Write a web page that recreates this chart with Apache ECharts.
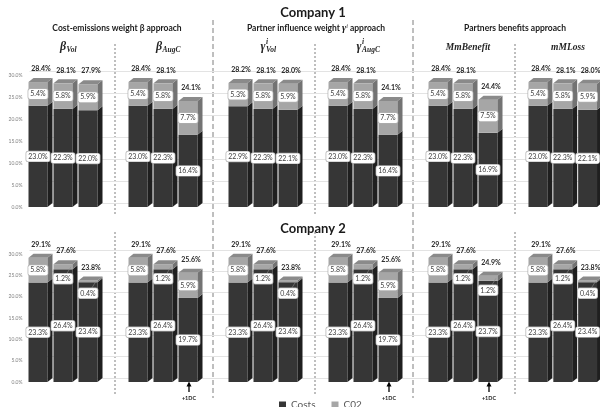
<!DOCTYPE html>
<html><head><meta charset="utf-8">
<script src="https://cdn.jsdelivr.net/npm/echarts@6/dist/echarts.min.js"></script>
<style>html,body{margin:0;padding:0;background:#fff}#c{width:600px;height:407px}</style>
</head><body><div id="c"></div>
<script>
// ---------------- data ----------------
const barSlots = ['S1', 'S2', 'S3'];
const companies = ['Company 1', 'Company 2'];
const approaches = ['Cost-emissions weight β approach', 'Partner influence weight γⁱ approach', 'Partners benefits approach'];
const methods = ['βVol', 'βAugC', 'γVol', 'γAugC', 'MmBenefit', 'mMLoss'];
const yTicks = [0, 5, 10, 15, 20, 25, 30];
const legendNames = ['Costs', 'C02'];

const c1Costs = [[23.0, 22.3, 22.0], [23.0, 22.3, 16.4], [22.9, 22.3, 22.1], [23.0, 22.3, 16.4], [23.0, 22.3, 16.9], [23.0, 22.3, 22.1]];
const c1CO2   = [[5.4, 5.8, 5.9],   [5.4, 5.8, 7.7],   [5.3, 5.8, 5.9],   [5.4, 5.8, 7.7],   [5.4, 5.8, 7.5],   [5.4, 5.8, 5.9]];
const c1Total = [[28.4, 28.1, 27.9], [28.4, 28.1, 24.1], [28.2, 28.1, 28.0], [28.4, 28.1, 24.1], [28.4, 28.1, 24.4], [28.4, 28.1, 28.0]];

const c2Costs = [[23.3, 26.4, 23.4], [23.3, 26.4, 19.7], [23.3, 26.4, 23.4], [23.3, 26.4, 19.7], [23.3, 26.4, 23.7], [23.3, 26.4, 23.4]];
const c2CO2   = [[5.8, 1.2, 0.4],   [5.8, 1.2, 5.9],   [5.8, 1.2, 0.4],   [5.8, 1.2, 5.9],   [5.8, 1.2, 1.2],   [5.8, 1.2, 0.4]];
const c2Total = [[29.1, 27.6, 23.8], [29.1, 27.6, 25.6], [29.1, 27.6, 23.8], [29.1, 27.6, 25.6], [29.1, 27.6, 24.9], [29.1, 27.6, 23.8]];

// +1DC annotations in Company 2 row: [method index, bar index]
const dcMarks = [[1, 2], [3, 2], [4, 2]];

// ---------------- layout / style ----------------
const rowsData = [
  {costs: c1Costs, co2: c1CO2, total: c1Total},
  {costs: c2Costs, co2: c2CO2, total: c2Total}
];
const ROWS = [{top: 75, bottom: 200}, {top: 254, bottom: 25}];
const GL0 = 25.5, GSTEP = 100, GW = 75;
const DX = 5, DY = 4;
const COLORS = {
  costs: {front: '#363636', side: '#1f1f1f', top: '#4a4a4a'},
  co2: {front: '#a6a6a6', side: '#737373', top: '#8a8a8a'}
};
const TXT = 'Lato, "Open Sans", sans-serif';
const SERIF = '"Liberation Serif", "DejaVu Serif", serif';

function makeRender(kind) {
  return function (params, api) {
    const i = api.value(0), base = api.value(1), val = api.value(2), total = api.value(3);
    const pb = api.coord([i, base]), pt = api.coord([i, base + val]);
    const w = api.size([1, 0])[0] * 0.76;
    const cx = pb[0];
    const x0 = cx - w / 2, x1 = cx + w / 2, yb = pb[1], yt = pt[1];
    const col = COLORS[kind];
    const ch = [
      {type: 'rect', shape: {x: x0, y: yt, width: w, height: yb - yt}, style: {fill: col.front}},
      {type: 'polygon', shape: {points: [[x1, yb], [x1 + DX, yb - DY], [x1 + DX, yt - DY], [x1, yt]]}, style: {fill: col.side}}
    ];
    if (kind === 'co2') {
      ch.push({type: 'polygon', shape: {points: [[x0, yt], [x0 + DX, yt - DY], [x1 + DX, yt - DY], [x1, yt]]}, style: {fill: col.top}});
      ch.push({type: 'text', z2: 20, style: {text: total.toFixed(1) + '%', x: cx + 3, y: yt - 13, align: 'center', verticalAlign: 'middle',
        fontSize: 7, fontWeight: 'bold', fontFamily: TXT, fill: '#262626'}});
    }
    const mid = (yb + yt) / 2;
    let ly = mid;
    if (val < 2) {
      ly = mid + 12;
      ch.push({type: 'line', z2: 15, shape: {x1: cx + 3, y1: ly - 4, x2: cx + 8, y2: mid}, style: {stroke: '#8c8c8c', lineWidth: 0.6}});
    }
    ch.push({type: 'text', z2: 20, style: {text: val.toFixed(1) + '%', x: cx, y: ly, align: 'center', verticalAlign: 'middle',
      fontSize: 7, fontFamily: TXT, fill: '#404040', backgroundColor: '#ffffff', borderColor: '#b0b0b0', borderWidth: 0.7,
      borderRadius: 2, padding: [2, 2, 1, 2]}});
    return {type: 'group', children: ch};
  };
}

const grid = [], xAxis = [], yAxis = [], series = [];
ROWS.forEach((row, r) => {
  // background grid carrying the gridlines (back wall)
  grid.push({left: GL0 + DX - 1, right: 0, top: row.top - DY, bottom: row.bottom + DY});
  const bg = grid.length - 1;
  xAxis.push({gridIndex: bg, type: 'value', show: false, min: 0, max: 1});
  yAxis.push({gridIndex: bg, type: 'value', min: 0, max: 30, interval: 5, axisLabel: {show: false},
    axisLine: {show: false}, axisTick: {show: false}, splitLine: {lineStyle: {color: '#e3e3e3', width: 1}}});
  for (let g = 0; g < 6; g++) {
    grid.push({left: GL0 + GSTEP * g, width: GW, top: row.top, bottom: row.bottom});
    const gi = grid.length - 1;
    xAxis.push({gridIndex: gi, type: 'category', data: barSlots, show: false});
    yAxis.push({gridIndex: gi, type: 'value', min: yTicks[0], max: yTicks[yTicks.length - 1], interval: 5,
      axisLine: {show: false}, axisTick: {show: false}, splitLine: {show: false},
      axisLabel: {show: g === 0, fontSize: 5, color: '#7f7f7f', margin: 3, fontFamily: TXT,
        formatter: v => v.toFixed(1) + '%'}});
    const d = rowsData[r];
    series.push({
      type: 'custom', name: legendNames[0], xAxisIndex: gi, yAxisIndex: gi, itemStyle: {color: COLORS.costs.front},
      renderItem: makeRender('costs'), encode: {x: 0, y: 2},
      data: barSlots.map((s, i) => [i, 0, d.costs[g][i], d.total[g][i]])
    });
    series.push({
      type: 'custom', name: legendNames[1], xAxisIndex: gi, yAxisIndex: gi, itemStyle: {color: COLORS.co2.front},
      renderItem: makeRender('co2'), encode: {x: 0, y: 2},
      data: barSlots.map((s, i) => [i, d.costs[g][i], d.co2[g][i], d.total[g][i]])
    });
  }
});

// ---------------- annotations ----------------
const mctx = document.createElement('canvas').getContext('2d');
function tw(t, font) { mctx.font = font; return mctx.measureText(t).width; }
function mathLabel(cx, y, main, sup, sub) {
  const fM = 'italic bold 12px "Liberation Serif"', fS = 'italic bold 7.5px "Liberation Serif"';
  const wM = tw(main, fM), wS = tw(sub, fS), wP = sup ? tw(sup, fS) : 0;
  const x0 = cx - (wM + Math.max(wS, wP)) / 2;
  const els = [
    {type: 'text', x: x0, y: y, style: {text: main, font: fM, fill: '#262626', align: 'left', verticalAlign: 'middle'}},
    {type: 'text', x: x0 + wM + 0.5, y: y + 3, style: {text: sub, font: fS, fill: '#262626', align: 'left', verticalAlign: 'middle'}}
  ];
  if (sup) els.push({type: 'text', x: x0 + wM + 0.5, y: y - 5, style: {text: sup, font: fS, fill: '#262626', align: 'left', verticalAlign: 'middle'}});
  return els;
}

const graphic = [];
const titleFont = 'bold 13px ' + TXT;
graphic.push({type: 'text', x: 313, y: 13, style: {text: companies[0], font: titleFont, fill: '#1a1a1a', align: 'center', verticalAlign: 'middle'}});
graphic.push({type: 'text', x: 313, y: 229, style: {text: companies[1], font: titleFont, fill: '#1a1a1a', align: 'center', verticalAlign: 'middle'}});
const apX = [117, 316, 515];
graphic.push({type: 'text', x: apX[0], y: 28, style: {text: approaches[0], font: 'bold 8.5px ' + TXT, fill: '#1a1a1a', align: 'center', verticalAlign: 'middle'}});
graphic.push({type: 'text', x: apX[1], y: 28, style: {
  text: 'Partner influence weight {g|γ}{s|i} approach', font: 'bold 8.5px ' + TXT, fill: '#1a1a1a', align: 'center', verticalAlign: 'middle',
  rich: {g: {fontFamily: SERIF, fontStyle: 'italic', fontWeight: 'bold', fontSize: 10, fill: '#1a1a1a'}, s: {fontFamily: SERIF, fontSize: 6, fontStyle: 'italic', verticalAlign: 'top', fill: '#1a1a1a'}}
}});
graphic.push({type: 'text', x: apX[2], y: 28, style: {text: approaches[2], font: 'bold 8.5px ' + TXT, fill: '#1a1a1a', align: 'center', verticalAlign: 'middle'}});

const subParts = [['β', null, 'Vol'], ['β', null, 'AugC'], ['γ', 'i', 'Vol'], ['γ', 'i', 'AugC']];
for (let g = 0; g < 6; g++) {
  const cx = GL0 + GSTEP * g + GW / 2 + 5;
  if (g < 4) {
    mathLabel(cx, 47, subParts[g][0], subParts[g][1], subParts[g][2]).forEach(e => graphic.push(e));
  } else {
    graphic.push({type: 'text', x: cx, y: 48, style: {text: methods[g], font: 'italic bold 9.5px "Liberation Serif"', fill: '#262626', align: 'center', verticalAlign: 'middle'}});
  }
}

// separators
[115, 315, 515].forEach(x => {
  graphic.push({type: 'line', shape: {x1: x, y1: 44, x2: x, y2: 216}, style: {stroke: '#7f7f7f', lineWidth: 1, lineDash: [2, 2]}});
  graphic.push({type: 'line', shape: {x1: x, y1: 232, x2: x, y2: 396}, style: {stroke: '#7f7f7f', lineWidth: 1, lineDash: [2, 2]}});
});
[213, 413].forEach(x => {
  graphic.push({type: 'line', shape: {x1: x, y1: 20, x2: x, y2: 398}, style: {stroke: '#7f7f7f', lineWidth: 1, lineDash: [5, 3]}});
});

// +1DC arrows
dcMarks.forEach(([g, i]) => {
  const x = GL0 + GSTEP * g + (i + 0.5) * GW / 3 + 1;
  graphic.push({type: 'line', shape: {x1: x, y1: 392, x2: x, y2: 385}, style: {stroke: '#000', lineWidth: 1.3}});
  graphic.push({type: 'polygon', shape: {points: [[x - 2.5, 386.5], [x, 381.5], [x + 2.5, 386.5]]}, style: {fill: '#000'}});
  graphic.push({type: 'text', x: x, y: 398, style: {text: '+1DC', font: 'bold 5.5px ' + TXT, fill: '#1a1a1a', align: 'center', verticalAlign: 'middle'}});
});

const chart = echarts.init(document.getElementById('c'), null, {renderer: 'canvas'});
chart.setOption({
  animation: false,
  backgroundColor: '#ffffff',
  grid, xAxis, yAxis, series, graphic,
  legend: {
    data: legendNames, left: 274, top: 395, icon: 'rect', itemWidth: 7, itemHeight: 7, itemGap: 16,
    textStyle: {fontSize: 10, color: '#595959', fontFamily: TXT}, selectedMode: false
  }
});
</script>
</body></html>
